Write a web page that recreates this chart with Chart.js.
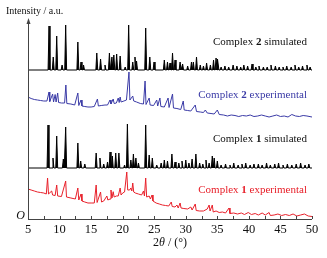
<!DOCTYPE html>
<html>
<head>
<meta charset="utf-8">
<script src="https://cdn.jsdelivr.net/npm/chart.js@4.4.1/dist/chart.umd.min.js"></script>
<style>
  html, body { margin: 0; padding: 0; background: #fff; }
  #wrap { width: 327px; height: 258px; }
</style>
</head>
<body>
<div id="wrap"><canvas id="xrd" width="327" height="258"></canvas></div>
<script>
// peak lists: [2theta, height]
const sim2Peaks = [[8.33,44],[9.0,13],[9.55,34],[10.4,5],[10.97,45],[12.9,28],[13.4,8],[13.8,5],[15.9,17],[16.5,11],[17.2,5],[17.9,17],[18.3,13],[18.6,15],[19.05,16],[19.6,14],[20.4,3],[20.95,45],[21.6,8],[21.95,13],[22.2,9],[23.65,42],[24.3,13],[24.97,8],[26.6,10],[27.1,8],[27.5,7],[27.9,17],[28.3,10],[29.1,8],[29.5,6],[30.3,4],[30.9,8],[31.2,8],[31.7,13],[32.3,5],[32.8,4],[33.3,7],[33.9,5],[34.4,10],[34.8,12],[35.1,11],[35.6,3],[36.2,4],[36.8,3],[37.5,5],[38.1,4],[38.7,3],[39.2,5],[39.8,4],[40.5,6],[41.1,3],[41.6,4],[42.3,3],[42.9,3],[43.5,5],[44.2,4],[44.8,3],[45.4,3],[46.0,4],[46.7,3],[47.3,5],[47.9,3],[48.5,4],[49.2,5],[49.7,3]];
const sim1Peaks = [[8.17,43],[8.96,10],[9.55,32],[10.6,9],[10.97,41],[12.9,25],[13.35,7],[14.0,4],[15.8,15],[16.4,10],[17.0,4],[17.6,6],[18.0,16],[18.36,12],[18.9,15],[19.4,15],[20.3,3],[20.75,44],[21.3,8],[21.7,14],[22.1,10],[22.5,5],[23.65,43],[24.2,13],[24.7,10],[25.4,3],[26.1,5],[26.6,8],[27.1,7],[27.8,14],[28.3,6],[28.9,5],[29.4,7],[30.0,8],[30.5,5],[31.0,9],[31.6,14],[32.2,5],[32.7,4],[33.2,8],[33.7,5],[34.2,12],[34.5,10],[35.0,7],[35.6,3],[36.3,4],[37.0,3],[37.6,5],[38.3,3],[38.9,4],[39.5,5],[40.2,3],[40.8,4],[41.5,4],[42.1,3],[42.8,5],[43.4,3],[44.1,4],[44.7,5],[45.4,3],[46.1,4],[46.8,3],[47.5,4],[48.2,5],[48.9,3],[49.5,4]];

// experimental curves: 2theta and intensity (a.u.)
const exp2X = [5.0,5.5,6.0,6.5,7.0,7.5,8.0,8.33,8.45,8.9,9.05,9.3,9.45,9.7,9.85,10.3,10.8,11.0,11.15,11.8,12.4,12.9,13.05,13.4,13.55,14.0,14.5,15.0,15.5,16.0,16.15,16.6,17.2,17.6,18.0,18.15,18.5,18.65,19.0,19.3,19.45,19.6,19.75,20.2,20.6,21.0,21.15,21.6,21.75,22.2,22.8,23.3,23.55,23.7,24.2,24.35,24.9,25.4,25.55,25.9,26.05,26.6,27.2,27.35,27.9,28.05,28.6,29.2,29.6,29.75,30.3,30.8,31.5,31.7,32.3,32.8,33.1,33.4,34.0,34.5,35.0,35.3,36.0,36.6,37.2,37.8,38.4,39.0,39.6,40.2,40.8,41.4,42.0,42.6,43.2,43.8,44.4,45.0,45.6,46.2,46.8,47.4,48.0,48.6,49.2,50.0];
const exp2Y = [22,20.5,19.5,19,18.5,18,18,27,17.5,25,17,24.5,17,26,16.5,16,16,34,15.5,15,14,26,13.5,19,13,12.5,12,12,12.5,20,13,13.5,14,14,19,15,20,15.5,16,21,16.5,22,17,18,19,47,19,23,18,17,15.5,15,38,14.5,21,14,13.5,19,13,21,12.5,12,21,11.5,25,11,10.5,9.5,18,9,8.5,8,14,7.5,7,6.5,9,6,5.5,5,9,4.5,4,3,4,3.5,2.5,3.5,3,4,2.5,3,4,3,2,3,4,2.5,3,2,4.5,3,2.5,3.5,3,2,3.5,2.5];
const exp1X = [5.0,5.5,6.0,6.5,7.0,7.5,7.9,8.1,8.25,8.75,8.9,9.3,9.55,9.7,10.3,10.97,11.1,11.8,12.5,12.9,13.05,13.4,13.55,14.0,14.5,15.0,15.5,15.8,15.95,16.5,16.65,17.0,17.5,17.65,18.0,18.15,18.3,18.5,18.65,19.0,19.3,19.6,19.75,20.0,20.3,20.65,20.8,21.1,21.3,21.45,21.6,21.75,22.0,22.5,23.0,23.3,23.45,23.65,23.8,24.2,24.4,24.65,24.8,25.3,25.8,26.3,26.8,27.3,27.7,27.85,28.3,28.6,28.8,29.1,29.25,29.7,30.3,30.8,31.0,31.5,31.65,32.2,32.8,33.4,33.7,33.85,34.2,34.35,34.8,35.3,35.8,36.3,36.85,37.0,37.6,38.2,38.8,39.3,39.9,40.4,41.0,41.5,42.1,42.6,43.2,43.4,44.0,44.6,45.2,45.8,46.4,47.0,47.6,48.2,48.8,49.4,50.0];
const exp1Y = [30,29,28,27,26.5,26,25,41,25,28,24,23.5,34,23,22.5,38,22,21,20,31,19,25,18,17,16,16,16,34,16.5,27,17,18,23,19,20,29,21,27.3,22,23,23,31,24,26,27,47,29,29,31,28,36,27,26,25,24,28,23,41,22,23,20,24,18,16,15,14,13.5,13,17,12.5,12,14,11,16,11,10.5,10,12,9,15,8.5,8,8,10,14,8,14,7,8,6.5,7,6,11,5.5,6,5,6,4.5,6.5,4.5,5.5,4,6,4,6.5,3.5,4,5,3.5,4.5,3.5,5,3,4,5,3,2.5];

// vertical offsets of the four traces (a.u.)
const offsets = { exp1: 0, sim1: 51, exp2: 100, sim2: 149 };
const yMax = 201;

const serif = "'Liberation Serif', 'DejaVu Serif', serif";

function stickPoints(peaks, base) {
  const pts = [{ x: 5, y: base }];
  peaks.forEach(([pos, h]) => {
    pts.push({ x: pos - 0.15, y: base });
    pts.push({ x: pos, y: base + h });
    pts.push({ x: pos + 0.15, y: base });
  });
  pts.push({ x: 50, y: base });
  return pts;
}

function curvePoints(xs, ys, base) {
  return xs.map((x, i) => ({ x: x, y: ys[i] + base }));
}

// axes, ticks and the labels with bold numbers
const decorations = {
  id: 'decorations',
  afterDraw(chart) {
    const { ctx, chartArea, scales } = chart;
    const xs = scales.x;
    const bottom = chartArea.bottom, left = chartArea.left, right = chartArea.right;
    ctx.save();
    ctx.strokeStyle = '#444';
    ctx.lineWidth = 1;
    ctx.beginPath();
    ctx.moveTo(left, bottom + 0.5);
    ctx.lineTo(right, bottom + 0.5);
    ctx.moveTo(left + 0.5, bottom);
    ctx.lineTo(left + 0.5, chartArea.top + 4);
    ctx.stroke();
    // arrow head
    ctx.fillStyle = '#444';
    ctx.beginPath();
    ctx.moveTo(left + 0.5, chartArea.top);
    ctx.lineTo(left - 1.5, chartArea.top + 6);
    ctx.lineTo(left + 2.5, chartArea.top + 6);
    ctx.closePath();
    ctx.fill();
    // ticks pointing up
    ctx.beginPath();
    for (let v = 7.5; v <= 50; v += 2.5) {
      const px = Math.round(xs.getPixelForValue(v)) + 0.5;
      ctx.moveTo(px, bottom);
      ctx.lineTo(px, bottom - 3);
    }
    ctx.stroke();

    ctx.fillStyle = '#111';
    ctx.textBaseline = 'middle';
    ctx.font = '10px ' + serif;
    ctx.textAlign = 'left';
    ctx.fillText('Intensity / a.u.', 6, 11);
    ctx.font = 'italic 12px ' + serif;
    ctx.textAlign = 'right';
    ctx.fillText('O', left - 3, bottom - 3);

    // x title: 2θ / (°)
    const cx = (left + right) / 2;
    ctx.font = '12px ' + serif;
    const w1 = ctx.measureText('2').width;
    const w3 = ctx.measureText(' / (°)').width;
    ctx.font = 'italic 12px ' + serif;
    const w2 = ctx.measureText('θ').width;
    let x0 = cx - (w1 + w2 + w3) / 2;
    ctx.textAlign = 'left';
    ctx.font = '12px ' + serif;
    ctx.fillText('2', x0, 243);
    ctx.font = 'italic 12px ' + serif;
    ctx.fillText('θ', x0 + w1, 243);
    ctx.font = '12px ' + serif;
    ctx.fillText(' / (°)', x0 + w1 + w2, 243);

    function label(num, tail, rightX, y, color) {
      const parts = [['Complex ', false], [num, true], [tail, false]];
      let total = 0;
      parts.forEach(p => {
        ctx.font = (p[1] ? 'bold ' : '') + '11px ' + serif;
        total += ctx.measureText(p[0]).width;
      });
      let x = rightX - total;
      ctx.fillStyle = color;
      ctx.textAlign = 'left';
      parts.forEach(p => {
        ctx.font = (p[1] ? 'bold ' : '') + '11px ' + serif;
        ctx.fillText(p[0], x, y);
        x += ctx.measureText(p[0]).width;
      });
    }
    label('2', ' simulated', 307, 42, '#111');
    label('2', ' experimental', 307, 95, '#3a3aa6');
    label('1', ' simulated', 307, 139, '#111');
    label('1', ' experimental', 307, 190, '#e8202a');
    ctx.restore();
  }
};

new Chart(document.getElementById('xrd'), {
  type: 'line',
  data: {
    datasets: [
      {
        label: 'Complex 2 simulated',
        data: stickPoints(sim2Peaks, offsets.sim2),
        borderColor: '#000', backgroundColor: '#000',
        borderWidth: 1, fill: { value: offsets.sim2 }
      },
      {
        label: 'Complex 2 experimental',
        data: curvePoints(exp2X, exp2Y, offsets.exp2),
        borderColor: '#3a3aa6', borderWidth: 1, fill: false
      },
      {
        label: 'Complex 1 simulated',
        data: stickPoints(sim1Peaks, offsets.sim1),
        borderColor: '#000', backgroundColor: '#000',
        borderWidth: 1, fill: { value: offsets.sim1 }
      },
      {
        label: 'Complex 1 experimental',
        data: curvePoints(exp1X, exp1Y, offsets.exp1),
        borderColor: '#e8202a', borderWidth: 1, fill: false
      }
    ]
  },
  options: {
    responsive: false,
    animation: false,
    devicePixelRatio: 1,
    layout: { padding: { left: 28, right: 15, top: 18, bottom: 0 } },
    elements: { point: { radius: 0 }, line: { tension: 0 } },
    plugins: { legend: { display: false }, tooltip: { enabled: false } },
    scales: {
      x: {
        type: 'linear', min: 5, max: 50,
        ticks: { stepSize: 5, autoSkip: false, maxRotation: 0, padding: 3, color: '#111',
                 font: { family: serif, size: 12.5 } },
        grid: { display: false, drawTicks: false },
        border: { display: false },
        afterFit(scale) { scale.height = 39; }
      },
      y: {
        display: false, min: 0, max: yMax
      }
    }
  },
  plugins: [decorations]
});
</script>
</body>
</html>
